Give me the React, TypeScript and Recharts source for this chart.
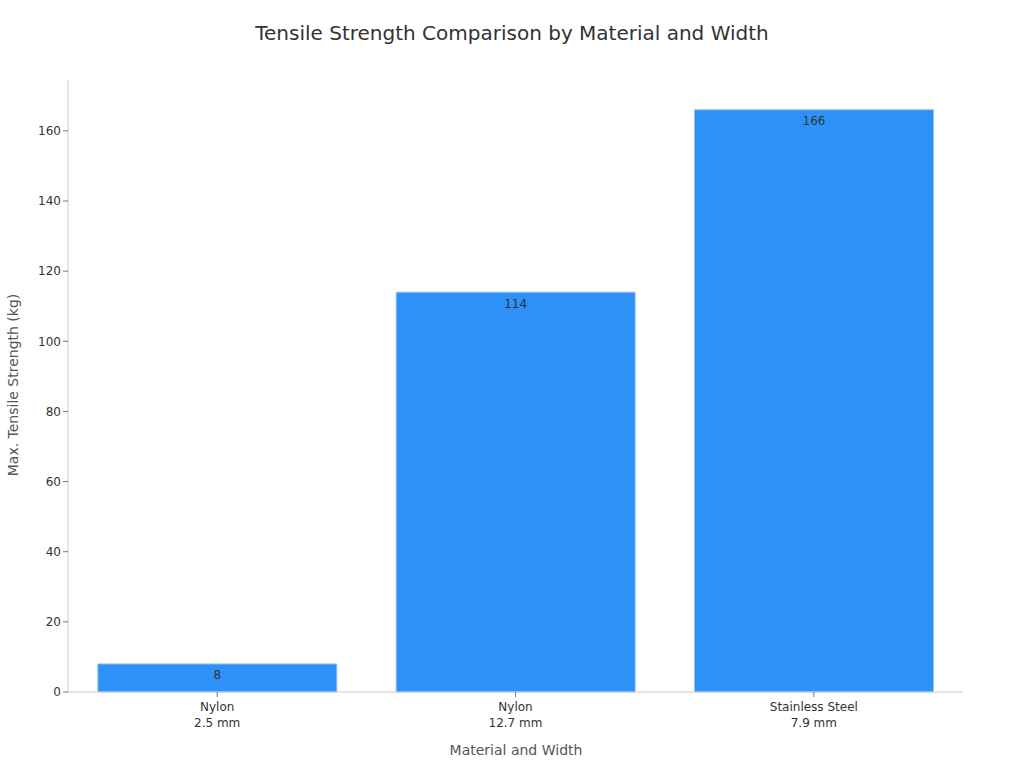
import React from 'react';
import { Bar, BarChart, LabelList, XAxis, YAxis } from 'recharts';

// ─── Data ────────────────────────────────────────────────────────────

const MATERIALS = ['Nylon', 'Nylon', 'Stainless Steel'];
const WIDTHS = ['2.5 mm', '12.7 mm', '7.9 mm'];
const STRENGTH = [8, 114, 166];
const Y_TICKS = [0, 20, 40, 60, 80, 100, 120, 140, 160];

const data = MATERIALS.map((material, i) => ({
  name: `${material}\n${WIDTHS[i]}`,
  strength: STRENGTH[i],
}));

const FONT = '"DejaVu Sans", sans-serif';

// ─── Ticks ───────────────────────────────────────────────────────────

const TwoLineTick = (props: any) => {
  const { x, y, payload } = props;
  const lines = String(payload.value).split('\n');
  return (
    <g>
      {lines.map((line, i) => (
        <text
          key={i}
          x={x}
          y={y + 12 + i * 16}
          textAnchor="middle"
          fontSize={12}
          fill="#333"
          fontFamily={FONT}
        >
          {line}
        </text>
      ))}
    </g>
  );
};

// ─── Component ───────────────────────────────────────────────────────

export default function App() {
  return (
    <div style={{ position: 'absolute', left: 0, top: 0, width: 1024, height: 768, background: '#fff' }}>
      <svg width={1024} height={768} style={{ position: 'absolute', left: 0, top: 0 }}>
        <text x={512} y={40} textAnchor="middle" fontSize={20} fill="#333" fontFamily={FONT}>
          Tensile Strength Comparison by Material and Width
        </text>
        <text x={516} y={755} textAnchor="middle" fontSize={14} fill="#555" fontFamily={FONT}>
          Material and Width
        </text>
        <text
          x={18}
          y={385}
          textAnchor="middle"
          fontSize={14}
          fill="#555"
          fontFamily={FONT}
          transform="rotate(-90 18 385)"
        >
          Max. Tensile Strength (kg)
        </text>
      </svg>
      <div style={{ position: 'absolute', left: 0, top: 0 }}>
        <BarChart
          width={1024}
          height={768}
          data={data}
          margin={{ top: 80, right: 61, bottom: 0, left: 18 }}
          barCategoryGap="10%"
        >
          <XAxis
            dataKey="name"
            interval={0}
            tick={<TwoLineTick />}
            tickLine={{ stroke: '#777' }}
            tickSize={5}
            axisLine={{ stroke: '#ccc' }}
            height={76}
          />
          <YAxis
            width={50}
            domain={[0, 174.5]}
            ticks={Y_TICKS}
            tick={{ fontSize: 12, fill: '#333', fontFamily: FONT }}
            tickLine={{ stroke: '#777' }}
            tickSize={5}
            axisLine={{ stroke: '#ccc' }}
          />
          <Bar dataKey="strength" fill="#2E91F7" stroke="#8DC3F8" strokeWidth={1} isAnimationActive={false}>
            <LabelList
              dataKey="strength"
              position="insideTop"
              offset={7}
              fontSize={12}
              fill="#333"
              fontFamily={FONT}
            />
          </Bar>
        </BarChart>
      </div>
    </div>
  );
}
